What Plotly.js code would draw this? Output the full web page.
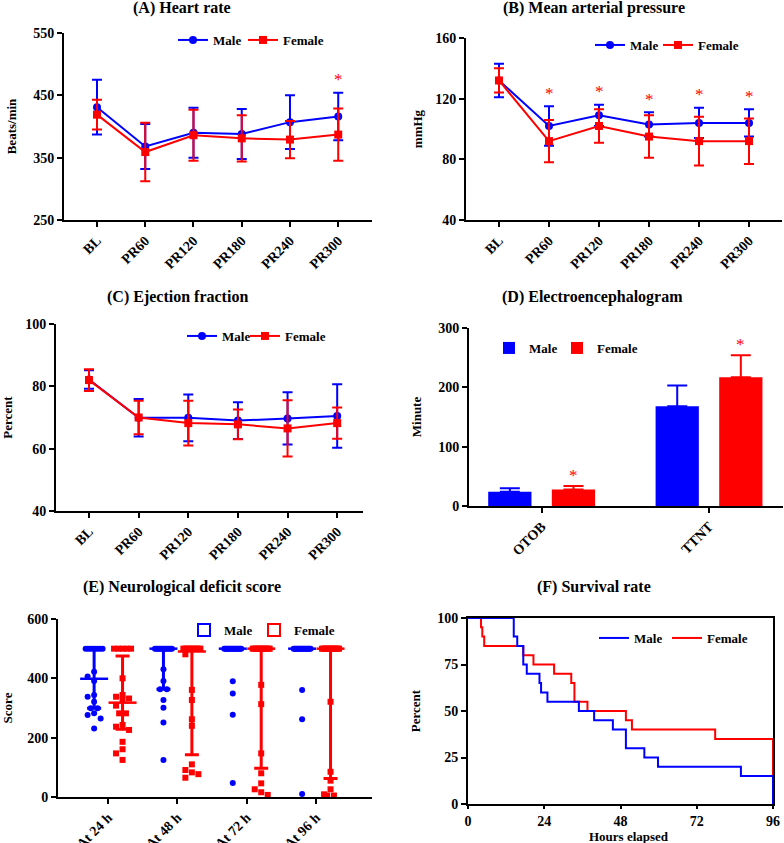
<!DOCTYPE html>
<html>
<head>
<meta charset="utf-8">
<script src="https://cdn.plot.ly/plotly-3.0.1.min.js"></script>
<style>
html, body { margin: 0; padding: 0; background: #fff; }
#chart { width: 784px; height: 843px; }
</style>
</head>
<body>
<div id="chart"></div>
<script>
"use strict";

// ---- data ----
var timepoints = ['BL', 'PR60', 'PR120', 'PR180', 'PR240', 'PR300'];

// (A) heart rate, mean and SD
var hrMale = [431, 368, 390, 388, 407, 416];
var hrMaleSd = [44, 36, 40, 40, 43, 38];
var hrFemale = [419, 359, 386, 381, 379, 387];
var hrFemaleSd = [24, 47, 41, 37, 30, 42];
var hrStars = [0, 0, 0, 0, 0, 1];

// (B) mean arterial pressure
var mapMale = [132, 102, 109, 103, 104, 104];
var mapMaleSd = [11, 13, 7, 8, 10, 9];
var mapFemale = [132, 92, 102, 95, 92, 92];
var mapFemaleSd = [8, 14, 11, 14, 16, 15];
var mapStars = [0, 1, 1, 1, 1, 1];

// (C) ejection fraction
var efMale = [82.2, 69.9, 69.9, 69.0, 69.7, 70.5];
var efMaleSd = [3, 6, 7.5, 5.9, 8.4, 10.2];
var efFemale = [82.0, 70.0, 68.2, 67.8, 66.5, 68.2];
var efFemaleSd = [3.5, 5.4, 7.2, 4.8, 9, 5];

// (D) electroencephalogram
var eegCats = ['OTOB', 'TTNT'];
var eegMale = [24, 168];
var eegMaleSd = [6, 35];
var eegFemale = [28, 217];
var eegFemaleSd = [5.5, 37];
var eegStars = [1, 1];

// (E) neurological deficit score, individual animals
var ndsCats = ['At 24 h', 'At 48 h', 'At 72 h', 'At 96 h'];
var ndsMale24 = [500, 500, 500, 500, 500, 500, 500, 500, 422, 406, 391, 344, 338, 321, 299, 299, 282, 276, 265, 231];
var ndsMale48 = [500, 500, 500, 500, 500, 500, 500, 500, 500, 500, 500, 500, 431, 391, 363, 363, 327, 301, 251, 125];
var ndsMale72 = [500, 500, 500, 500, 500, 500, 500, 500, 500, 500, 500, 500, 500, 500, 500, 500, 390, 349, 277, 47];
var ndsMale96 = [500, 500, 500, 500, 500, 500, 500, 500, 500, 500, 500, 500, 500, 500, 500, 500, 500, 361, 262, 10];
var ndsFemale24 = [500, 500, 500, 500, 500, 400, 344, 338, 332, 328, 308, 282, 282, 243, 237, 226, 186, 161, 147, 125];
var ndsFemale48 = [500, 500, 500, 500, 500, 500, 500, 500, 500, 500, 481, 361, 327, 262, 240, 110, 91, 83, 77, 65];
var ndsFemale72 = [500, 500, 500, 500, 500, 500, 500, 500, 500, 500, 500, 500, 378, 313, 147, 80, 46, 26, 16, 7];
var ndsFemale96 = [500, 500, 500, 500, 500, 500, 500, 500, 500, 500, 500, 500, 500, 321, 85, 55, 26, 9, 5, 5];

// (F) survival, Kaplan-Meier steps
var survMaleHours = [0, 14.4, 15.5, 17.4, 18.5, 22.5, 23, 25, 34.9, 39.7, 45.6, 49.7, 55.5, 59.8, 85.9, 96];
var survMalePct = [100, 90, 85, 75, 70, 65, 60, 55, 50, 45, 40, 30, 25, 20, 15, 0];
var survFemaleHours = [0, 4.1, 4.5, 5.1, 17.4, 20.6, 27.1, 32.5, 33.5, 37.6, 49.7, 51.6, 77.8, 96];
var survFemalePct = [100, 95, 90, 85, 80, 75, 70, 65, 55, 50, 45, 40, 35, 0];

// ---- helpers ----
var W = 784, H = 843;
var FONT = '"Liberation Serif", "Times New Roman", serif';
var BLUE = '#0000ff', RED = '#ff0000';

function px(x) { return x / W; }
function py(y) { return 1 - y / H; }

function axis(extra) {
    var base = {
        showline: true, linewidth: 2, linecolor: '#000',
        ticks: 'outside', ticklen: 5, tickwidth: 2, tickcolor: '#000',
        showgrid: false, zeroline: false, fixedrange: true,
        tickfont: {family: FONT, size: 14, weight: 'bold', color: '#000'}
    };
    return Object.assign(base, extra);
}

function axTitle(text, standoff) {
    return {text: text, standoff: standoff, font: {family: FONT, size: 13, weight: 'bold', color: '#000'}};
}

// one legend per entry, so each key can sit where the figure has it
function legendAt(xc, yc) {
    return {
        x: px(xc - 20), y: py(yc), xanchor: 'left', yanchor: 'middle',
        orientation: 'h', bgcolor: 'rgba(0,0,0,0)', borderwidth: 0,
        font: {family: FONT, size: 13, weight: 'bold', color: '#000'}
    };
}

var traces = [];
var notes = [];

function meanSdTraces(xa, ya, legM, legF, male, maleSd, female, femaleSd) {
    traces.push({
        type: 'scatter', mode: 'lines+markers', name: 'Male',
        x: timepoints, y: male, xaxis: xa, yaxis: ya, legend: legM, cliponaxis: false,
        line: {color: BLUE, width: 2}, marker: {symbol: 'circle', size: 8, color: BLUE},
        error_y: {type: 'data', array: maleSd, visible: true, color: BLUE, thickness: 2, width: 5}
    });
    traces.push({
        type: 'scatter', mode: 'lines+markers', name: 'Female',
        x: timepoints, y: female, xaxis: xa, yaxis: ya, legend: legF, cliponaxis: false,
        line: {color: RED, width: 2}, marker: {symbol: 'square', size: 8, color: RED},
        error_y: {type: 'data', array: femaleSd, visible: true, color: RED, thickness: 2, width: 5}
    });
}

function stars(xa, ya, xs, flags, tops, shift) {
    flags.forEach(function (f, i) {
        if (!f) return;
        notes.push({
            xref: xa, yref: ya, x: xs[i], y: tops[i], yshift: shift,
            text: '*', showarrow: false, xanchor: 'center', yanchor: 'middle',
            font: {family: FONT, size: 17, color: RED}
        });
    });
}

function topsOf(a, ea, b, eb) {
    return a.map(function (v, i) { return Math.max(v + ea[i], b[i] + eb[i]); });
}

function paperText(text, cx, cy, size) {
    notes.push({
        xref: 'paper', yref: 'paper', x: px(cx), y: py(cy), xanchor: 'center', yanchor: 'middle',
        text: text, showarrow: false, borderpad: 0,
        font: {family: FONT, size: size, weight: 'bold', color: '#000'}
    });
}

// ---- A, B, C ----
meanSdTraces('x', 'y', 'legend', 'legend2', hrMale, hrMaleSd, hrFemale, hrFemaleSd);
stars('x', 'y', timepoints, hrStars, topsOf(hrMale, hrMaleSd, hrFemale, hrFemaleSd), 13);

meanSdTraces('x2', 'y2', 'legend3', 'legend4', mapMale, mapMaleSd, mapFemale, mapFemaleSd);
stars('x2', 'y2', timepoints, mapStars, topsOf(mapMale, mapMaleSd, mapFemale, mapFemaleSd), 13);

meanSdTraces('x3', 'y3', 'legend5', 'legend6', efMale, efMaleSd, efFemale, efFemaleSd);

// ---- D ----
var BARGAP = 0.24;
traces.push({
    type: 'bar', name: 'Male', x: eegCats, y: eegMale, xaxis: 'x4', yaxis: 'y4', legend: 'legend7',
    marker: {color: BLUE},
    error_y: {type: 'data', symmetric: false, array: eegMaleSd, arrayminus: [0, 0], color: BLUE, thickness: 2, width: 10}
});
traces.push({
    type: 'bar', name: 'Female', x: eegCats, y: eegFemale, xaxis: 'x4', yaxis: 'y4', legend: 'legend8',
    marker: {color: RED},
    error_y: {type: 'data', symmetric: false, array: eegFemaleSd, arrayminus: [0, 0], color: RED, thickness: 2, width: 10}
});
var femaleBarOffset = (1 - BARGAP) / 4;
stars('x4', 'y4', eegCats.map(function (c, i) { return i + femaleBarOffset; }), eegStars,
    eegFemale.map(function (v, i) { return v + eegFemaleSd[i]; }), 11);

// ---- E ----
var eDomainX = [58, 372], eRange = [-0.721, 3.808];
var ePxPerUnitX = (eDomainX[1] - eDomainX[0]) / (eRange[1] - eRange[0]);
var ePxPerUnitY = 178 / 600;

function quantile(sorted, p) {
    var pos = p * (sorted.length + 1);
    var lo = Math.floor(pos);
    if (lo < 1) return sorted[0];
    if (lo >= sorted.length) return sorted[sorted.length - 1];
    return sorted[lo - 1] + (pos - lo) * (sorted[lo] - sorted[lo - 1]);
}

// spread points sideways so they do not sit on top of each other
function swarm(vals, center) {
    var counts = {};
    vals.forEach(function (v) { counts[v] = (counts[v] || 0) + 1; });
    var xs = new Array(vals.length);
    var placed = [];
    var seen = {};
    vals.forEach(function (v, i) {
        if (counts[v] < 2) return;
        var k = counts[v], j = seen[v] || 0;
        seen[v] = j + 1;
        var half = Math.min(8.5, 3.4 * (k - 1));
        var off = -half + 2 * half * j / (k - 1);
        xs[i] = center + off / ePxPerUnitX;
        placed.push([off, v * ePxPerUnitY]);
    });
    var order = vals.map(function (v, i) { return i; })
        .filter(function (i) { return counts[vals[i]] < 2; })
        .sort(function (a, b) { return vals[b] - vals[a]; });
    order.forEach(function (i) {
        var yp = vals[i] * ePxPerUnitY;
        var best = 0, bestCost = Infinity;
        [0, -6.5, 6.5].forEach(function (c) {
            var cost = 0;
            placed.forEach(function (p) {
                var d = Math.hypot(p[0] - c, p[1] - yp);
                if (d < 6) cost += 6 - d;
            });
            if (cost < bestCost - 1e-9) { bestCost = cost; best = c; }
        });
        xs[i] = center + best / ePxPerUnitX;
        placed.push([best, yp]);
    });
    return xs;
}

function ndsTraces(groups, shift, color, symbol) {
    var px_ = [], py_ = [], med = [], up = [], dn = [], mx = [];
    groups.forEach(function (vals, g) {
        var xs = swarm(vals, g + shift);
        px_ = px_.concat(xs);
        py_ = py_.concat(vals);
        var s = vals.slice().sort(function (a, b) { return a - b; });
        var m = quantile(s, 0.5);
        med.push(m);
        up.push(quantile(s, 0.75) - m);
        dn.push(m - quantile(s, 0.25));
        mx.push(g + shift);
    });
    traces.push({
        type: 'scatter', mode: 'markers', x: px_, y: py_, xaxis: 'x5', yaxis: 'y5',
        showlegend: false, cliponaxis: false, hoverinfo: 'y',
        marker: {symbol: symbol, size: 6, color: color}
    });
    traces.push({
        type: 'scatter', mode: 'markers', x: mx, y: med, xaxis: 'x5', yaxis: 'y5',
        showlegend: false, cliponaxis: false,
        marker: {symbol: 'line-ew', size: 20, color: color, line: {color: color, width: 2.5}},
        error_y: {type: 'data', symmetric: false, array: up, arrayminus: dn, color: color, thickness: 3, width: 7}
    });
}

ndsTraces([ndsMale24, ndsMale48, ndsMale72, ndsMale96], -0.2, BLUE, 'circle');
ndsTraces([ndsFemale24, ndsFemale48, ndsFemale72, ndsFemale96], 0.21, RED, 'square');
// legend keys of panel E are open squares
traces.push({type: 'scatter', mode: 'markers', name: 'Male', x: [null], y: [null], xaxis: 'x5', yaxis: 'y5',
    legend: 'legend9', marker: {symbol: 'square-open', size: 12, color: BLUE, line: {color: BLUE, width: 2}}});
traces.push({type: 'scatter', mode: 'markers', name: 'Female', x: [null], y: [null], xaxis: 'x5', yaxis: 'y5',
    legend: 'legend10', marker: {symbol: 'square-open', size: 12, color: RED, line: {color: RED, width: 2}}});

// ---- F ---- (male drawn last, on top)
traces.push({
    type: 'scatter', mode: 'lines', name: 'Female', x: survFemaleHours, y: survFemalePct,
    xaxis: 'x6', yaxis: 'y6', legend: 'legend12', cliponaxis: false,
    line: {color: RED, width: 2, shape: 'hv'}
});
traces.push({
    type: 'scatter', mode: 'lines', name: 'Male', x: survMaleHours, y: survMalePct,
    xaxis: 'x6', yaxis: 'y6', legend: 'legend11', cliponaxis: false,
    line: {color: BLUE, width: 2, shape: 'hv'}
});

paperText('(A) Heart rate', 182, 8, 16);
paperText('(B) Mean arterial pressure', 594, 8, 16);
paperText('(C) Ejection fraction', 177, 297, 16);
paperText('(D) Electroencephalogram', 592, 297, 16);
paperText('(E) Neurological deficit score', 182, 587, 16);
paperText('(F) Survival rate', 594, 587, 16);
// x title of F sits lower than plotly would put it without margins
paperText('Hours elapsed', 629, 836, 13);

var layout = {
    width: W, height: H,
    margin: {l: 0, r: 0, t: 0, b: 0},
    paper_bgcolor: '#fff', plot_bgcolor: 'rgba(0,0,0,0)',
    font: {family: FONT, color: '#000'},
    showlegend: true,
    barmode: 'group', bargap: BARGAP, bargroupgap: 0.32,
    annotations: notes,

    xaxis: axis({domain: [px(64), px(372)], anchor: 'y', type: 'category', range: [-0.684, 5.70], tickangle: -45}),
    yaxis: axis({domain: [py(220), py(33)], anchor: 'x', range: [250, 550], tickvals: [250, 350, 450, 550],
        title: axTitle('Beats/min', 14)}),

    xaxis2: axis({domain: [px(466), px(782)], anchor: 'y2', type: 'category', range: [-0.66, 5.66], tickangle: -45}),
    yaxis2: axis({domain: [py(220), py(38)], anchor: 'x2', range: [40, 160], tickvals: [40, 80, 120, 160],
        title: axTitle('mmHg', 10)}),

    xaxis3: axis({domain: [px(56), px(363)], anchor: 'y3', type: 'category', range: [-0.665, 5.52], tickangle: -45}),
    yaxis3: axis({domain: [py(511), py(324)], anchor: 'x3', range: [40, 100], tickvals: [40, 60, 80, 100],
        title: axTitle('Percent', 12)}),

    xaxis4: axis({domain: [px(469), px(783)], anchor: 'y4', type: 'category', range: [-0.434, 1.442], tickangle: -45}),
    yaxis4: axis({domain: [py(506), py(328)], anchor: 'x4', range: [0, 300], tickvals: [0, 100, 200, 300],
        title: axTitle('Minute', 14)}),

    xaxis5: axis({domain: [px(eDomainX[0]), px(eDomainX[1])], anchor: 'y5', range: eRange,
        tickvals: [0, 1, 2, 3], ticktext: ndsCats, tickangle: -45}),
    yaxis5: axis({domain: [py(797), py(619)], anchor: 'x5', range: [0, 600], tickvals: [0, 200, 400, 600],
        title: axTitle('Score', 14)}),

    xaxis6: axis({domain: [px(468), px(773)], anchor: 'y6', range: [0, 96], tickvals: [0, 24, 48, 72, 96],
        ticklen: 3, mirror: true}),
    yaxis6: axis({domain: [py(804), py(618)], anchor: 'x6', range: [0, 100], tickvals: [0, 25, 50, 75, 100],
        mirror: true, title: axTitle('Percent', 14)}),

    legend: legendAt(193, 40), legend2: legendAt(263, 40),
    legend3: legendAt(610, 45), legend4: legendAt(678, 45),
    legend5: legendAt(202, 336), legend6: legendAt(265, 336),
    legend7: legendAt(509, 348), legend8: legendAt(577, 348),
    legend9: legendAt(204, 630), legend10: legendAt(274, 630),
    legend11: legendAt(614, 638), legend12: legendAt(687, 638)
};

Plotly.newPlot('chart', traces, layout, {displayModeBar: false, staticPlot: true});
</script>
</body>
</html>
